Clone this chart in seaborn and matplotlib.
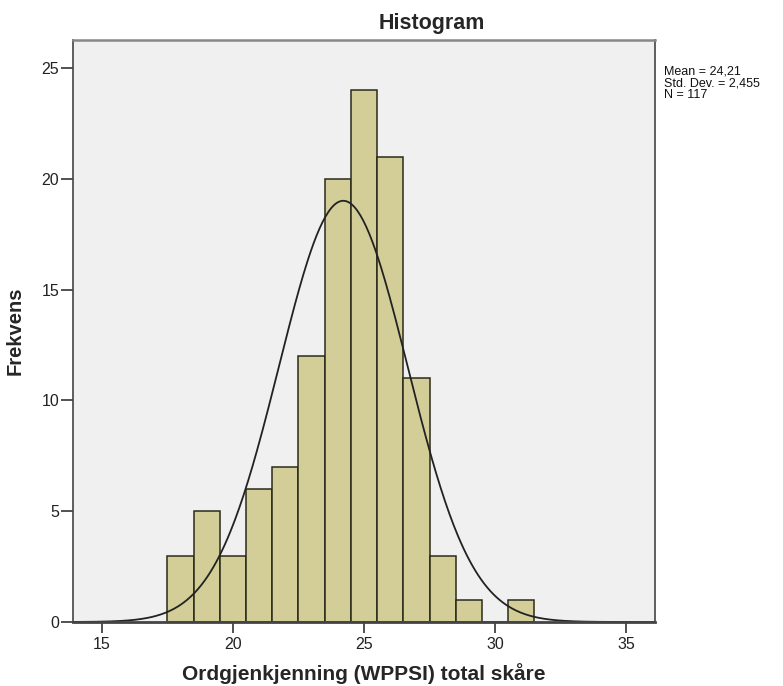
import numpy as np
import pandas as pd
import matplotlib
matplotlib.use("Agg")
import matplotlib.pyplot as plt
import seaborn as sns

# Data
scores = [18, 19, 20, 21, 22, 23, 24, 25, 26, 27, 28, 29, 30, 31]
counts = [3, 5, 3, 6, 7, 12, 20, 24, 21, 11, 3, 1, 0, 1]
mean_val = 24.21
sd_val = 2.455
n_val = 117
x_ticks = [15, 20, 25, 30, 35]
y_ticks = [0, 5, 10, 15, 20, 25]

sns.set_theme(style="white")
plt.rcParams['font.family'] = ['Liberation Sans', 'DejaVu Sans']

fig = plt.figure(figsize=(7.83, 6.86), dpi=100)
ax = fig.add_axes([73/783, 1-622/686, (655-73)/783, (622-40)/686])
ax.set_facecolor('#f0f0f0')

df = pd.DataFrame({"score": scores, "count": counts})
sns.histplot(data=df, x="score", weights="count", binwidth=1,
             binrange=(min(scores) - 0.5, max(scores) + 0.5), ax=ax,
             color='#d3ce97', edgecolor='#2a2a1a', linewidth=1.1, alpha=1.0)

xs = np.linspace(13.9, 36.1, 400)
ys = n_val * 1.0 / (sd_val * np.sqrt(2 * np.pi)) * np.exp(-0.5 * ((xs - mean_val) / sd_val) ** 2)
sns.lineplot(x=xs, y=ys, ax=ax, color='#222222', linewidth=1.3)

ax.set_xlim(13.9, 36.1)
ax.set_ylim(0, 26.27)
ax.set_xticks(x_ticks)
ax.set_yticks(y_ticks)
ax.tick_params(axis='both', which='both', direction='out', length=9, width=1.2,
               color='#333333', labelsize=11.5, labelcolor='#222222', pad=1,
               bottom=True, left=True, top=False, right=False)
ax.tick_params(axis='x', length=8, pad=3)

for side in ['left', 'bottom', 'right']:
    ax.spines[side].set_color('#444444')
    ax.spines[side].set_linewidth(1.2)
ax.spines['top'].set_color('#888888')
ax.spines['top'].set_linewidth(1.8)
ax.spines['bottom'].set_linewidth(2)

ax.set_xlabel('Ordgjenkjenning (WPPSI) total skåre', fontsize=15, fontweight='bold', labelpad=8)
ax.set_ylabel('Frekvens', fontsize=14.5, fontweight='bold', labelpad=12)

fig.text(432/783, 1-24/686, 'Histogram', ha='center', va='center', fontsize=15.5, fontweight='bold')
fig.text(664/783, 1-66/686, f'Mean = 24,21\nStd. Dev. = 2,455\nN = {n_val}',
         ha='left', va='top', fontsize=9, linespacing=0.92, color='#111111')

fig.savefig('out.png', dpi=100)
